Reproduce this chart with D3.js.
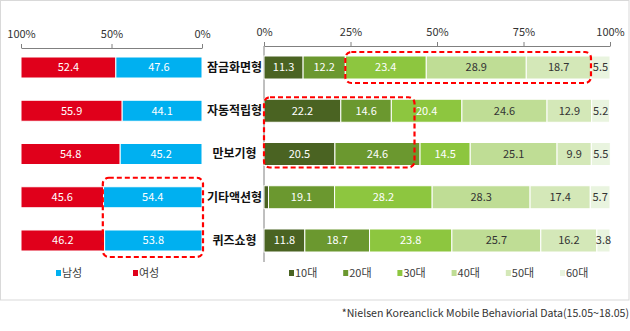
<!DOCTYPE html>
<html><head><meta charset="utf-8">
<script src="https://cdn.jsdelivr.net/npm/d3@7"></script>
<style>
html,body{margin:0;padding:0;background:#fff;}
svg text{font-family:"Noto Sans CJK KR","Noto Sans",sans-serif;}
</style></head>
<body><svg id="c" width="630" height="331"></svg>
<script>
const categories = ["잠금화면형","자동적립형","만보기형","기타액션형","퀴즈쇼형"];
const female = [52.4, 55.9, 54.8, 45.6, 46.2];
const male = [47.6, 44.1, 45.2, 54.4, 53.8];
const ageGroups = ["10대","20대","30대","40대","50대","60대"];
const age10 = [11.3, 22.2, 20.5, 1.3, 11.8];
const age20 = [12.2, 14.6, 24.6, 19.1, 18.7];
const age30 = [23.4, 20.4, 14.5, 28.2, 23.8];
const age40 = [28.9, 24.6, 25.1, 28.3, 25.7];
const age50 = [18.7, 12.9, 9.9, 17.4, 16.2];
const age60 = [5.5, 5.2, 5.5, 5.7, 3.8];
const leftTicks = [100, 50, 0];
const rightTicks = [0, 25, 50, 75, 100];
const genderLabels = ["남성","여성"];
const footnote = "*Nielsen Koreanclick Mobile Behaviorial Data(15.05~18.05)";

const ageColors = ["#4a6322","#6b982f","#8dc63f","#bfdd95","#d4e8b8","#e9f4df"];
const ageTextColors = ["#fff","#fff","#fff","#333","#333","#333"];
const maleColor = "#00b0f0", femaleColor = "#e0001b";

const svg = d3.select("#c");
svg.append("rect").attr("x",0.5).attr("y",0.5).attr("width",628.5).attr("height",299.5)
  .attr("fill","none").attr("stroke","#d9d9d9");

const y = d3.scaleBand().domain(categories).range([56,252]).paddingInner(0.468).paddingOuter(0);
const xL = d3.scaleLinear().domain([100,0]).range([21,202]);
const xR = d3.scaleLinear().domain([0,100]).range([264,610]);

// left axis
const gL = svg.append("g").attr("transform","translate(0,48)")
  .call(d3.axisTop(xL).tickValues(leftTicks).tickFormat(d=>d+"%").tickSize(4).tickSizeOuter(0));
gL.select(".domain").attr("stroke","#808080");
gL.selectAll(".tick line").attr("stroke","#808080");
gL.selectAll(".tick text").attr("font-size",11).attr("fill","#333").attr("dy","-3");

// right axis
const gR = svg.append("g").attr("transform","translate(0,46)")
  .call(d3.axisTop(xR).tickValues(rightTicks).tickFormat(d=>d+"%").tickSize(4).tickSizeOuter(0));
gR.select(".domain").attr("stroke","#808080");
gR.selectAll(".tick line").attr("stroke","#808080");
gR.selectAll(".tick text").attr("font-size",11).attr("fill","#333").attr("dy","-3");
svg.append("line").attr("x1",xR(0)).attr("x2",xR(0)).attr("y1",46).attr("y2",262)
  .attr("stroke","#808080");

// left bars
const lrows = categories.map((c,i)=>({c, f:female[i], m:male[i]}));
const lg = svg.append("g");
lrows.forEach(r=>{
  const y0 = y(r.c)+1, h = y.bandwidth()-2;
  lg.append("rect").attr("x",xL(100)).attr("y",y0).attr("width",xL(r.m)-xL(100)).attr("height",h)
    .attr("fill",femaleColor).attr("stroke","#fff").attr("stroke-width",1);
  lg.append("rect").attr("x",xL(r.m)).attr("y",y0).attr("width",xL(0)-xL(r.m)).attr("height",h)
    .attr("fill",maleColor).attr("stroke","#fff").attr("stroke-width",1);
  lg.append("text").attr("x",(xL(100)+xL(r.m))/2).attr("y",y0+h/2).attr("dy","0.36em")
    .attr("text-anchor","middle").attr("font-size",11).attr("fill","#fff").text(r.f.toFixed(1));
  lg.append("text").attr("x",(xL(r.m)+xL(0))/2).attr("y",y0+h/2).attr("dy","0.36em")
    .attr("text-anchor","middle").attr("font-size",11).attr("fill","#fff").text(r.m.toFixed(1));
});

// category labels
svg.append("g").selectAll("text").data(categories).join("text")
  .attr("x",234.5).attr("y",d=>y(d)+y.bandwidth()/2).attr("dy","0.36em")
  .attr("text-anchor","middle").attr("font-size",12).attr("font-weight","bold").attr("fill","#111")
  .text(d=>d);

// right stacked bars
const ageSeries = [age10,age20,age30,age40,age50,age60];
const table = categories.map((c,i)=>{
  const o = {cat:c};
  ageGroups.forEach((a,j)=>o[a]=ageSeries[j][i]);
  return o;
});
const stacked = d3.stack().keys(ageGroups)(table);
const rg = svg.append("g");
stacked.forEach((s,j)=>{
  s.forEach(d=>{
    const x0 = xR(d[0]), x1 = xR(d[1]);
    rg.append("rect").attr("x",x0).attr("y",y(d.data.cat)).attr("width",x1-x0).attr("height",y.bandwidth())
      .attr("fill",ageColors[j]).attr("stroke","#fff").attr("stroke-width",1);
    const v = d[1]-d[0];
    if (v >= 3) {
      rg.append("text").attr("x",(x0+x1)/2).attr("y",y(d.data.cat)+y.bandwidth()/2).attr("dy","0.36em")
        .attr("text-anchor","middle").attr("font-size",11).attr("fill",ageTextColors[j])
        .text(d.data[s.key].toFixed(1));
    }
  });
});

// highlight boxes
const dash = {stroke:"#ff0000","stroke-width":2.2,"stroke-dasharray":"5,3",fill:"none"};
function box(x0,x1,y0,y1){
  const r = svg.append("rect").attr("x",x0).attr("y",y0).attr("width",x1-x0).attr("height",y1-y0)
    .attr("rx",6).attr("ry",6);
  Object.entries(dash).forEach(([k,v])=>r.attr(k,v));
}
box(xR(23.5), xR(94.5), y(categories[0])-4, y(categories[0])+y.bandwidth()+4);
box(xR(0), xR(43.5), y(categories[1])-2, y(categories[2])+y.bandwidth()+2);
box(xL(54.8), xL(0)+1, y(categories[3])-8, y(categories[4])+y.bandwidth()+5);

// legends
const legL = svg.append("g");
const genderColors = [maleColor, femaleColor];
const legLX = [56, 133];
genderLabels.forEach((g,i)=>{
  legL.append("rect").attr("x",legLX[i]).attr("y",270).attr("width",5).attr("height",6).attr("fill",genderColors[i]);
  legL.append("text").attr("x",legLX[i]+6).attr("y",273).attr("dy","0.36em").attr("font-size",11)
    .attr("fill","#404040").text(g);
});
const legR = svg.append("g");
ageGroups.forEach((a,i)=>{
  const lx = 289 + i*54.2;
  legR.append("rect").attr("x",lx).attr("y",270).attr("width",5).attr("height",6).attr("fill",ageColors[i]);
  legR.append("text").attr("x",lx+6).attr("y",273).attr("dy","0.36em").attr("font-size",11)
    .attr("fill","#404040").text(a);
});

svg.append("text").attr("x",629).attr("y",313).attr("dy","0.36em").attr("text-anchor","end")
  .attr("font-size",10.6).attr("fill","#333").text(footnote);
</script></body></html>
